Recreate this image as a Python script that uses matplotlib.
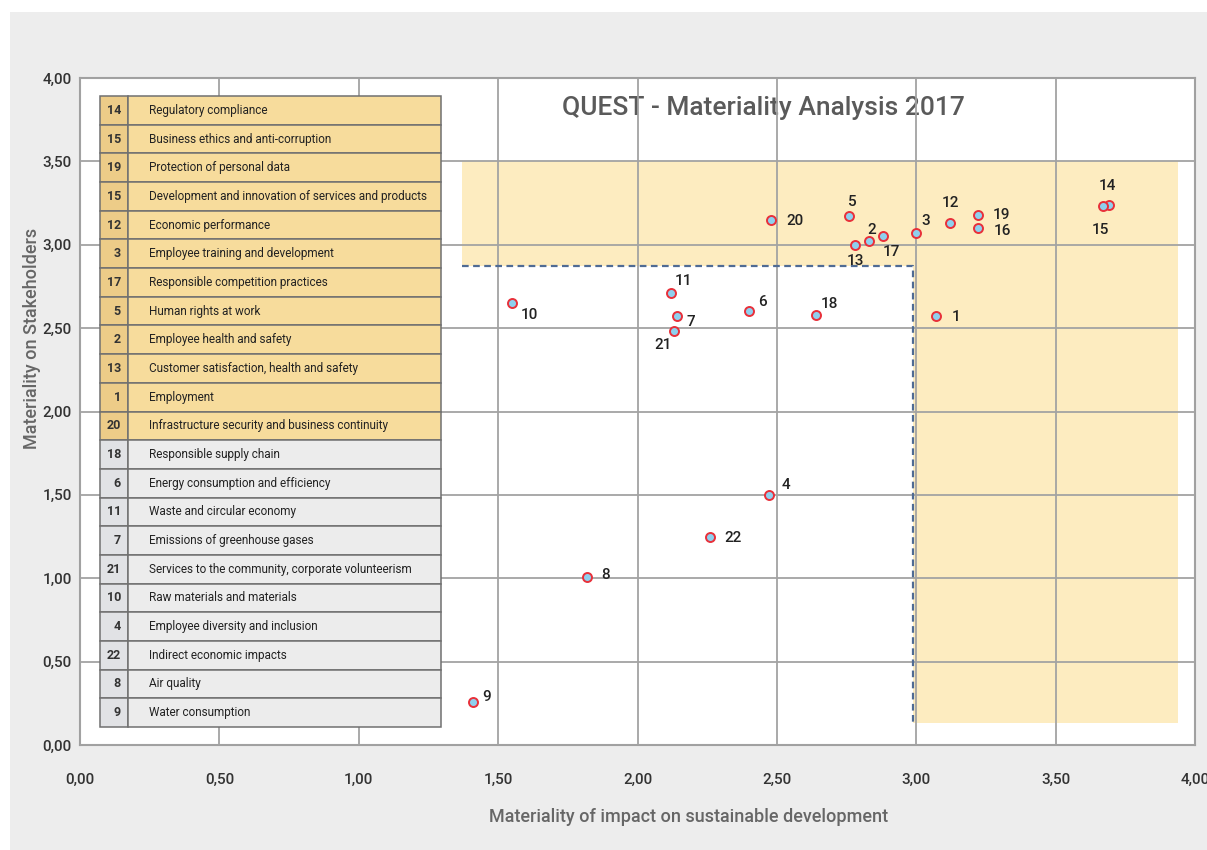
import matplotlib
matplotlib.use("Agg")
import matplotlib.pyplot as plt
from matplotlib.patches import Rectangle, Polygon
from matplotlib.ticker import FuncFormatter

# ----------------------------
# DATA
# ----------------------------

ids = [14, 15, 19, 16, 12, 3, 17, 2, 13, 5, 20, 1, 18, 6, 11, 7, 21, 10, 4, 22, 8, 9]
impact = [3.69, 3.67, 3.22, 3.22, 3.12, 3.00, 2.88, 2.83, 2.78, 2.76, 2.48, 3.07,
          2.64, 2.40, 2.12, 2.14, 2.13, 1.55, 2.47, 2.26, 1.82, 1.41]
stakeholders = [3.24, 3.23, 3.18, 3.10, 3.13, 3.07, 3.05, 3.02, 3.00, 3.17, 3.15, 2.57,
                2.58, 2.60, 2.71, 2.57, 2.48, 2.65, 1.50, 1.25, 1.01, 0.26]

table_ids = [14, 15, 19, 15, 12, 3, 17, 5, 2, 13, 1, 20,
             18, 6, 11, 7, 21, 10, 4, 22, 8, 9]
table_topics = [
    "Regulatory compliance",
    "Business ethics and anti-corruption",
    "Protection of personal data",
    "Development and innovation of services and products",
    "Economic performance",
    "Employee training and development",
    "Responsible competition practices",
    "Human rights at work",
    "Employee health and safety",
    "Customer satisfaction, health and safety",
    "Employment",
    "Infrastructure security and business continuity",
    "Responsible supply chain",
    "Energy consumption and efficiency",
    "Waste and circular economy",
    "Emissions of greenhouse gases",
    "Services to the community, corporate volunteerism",
    "Raw materials and materials",
    "Employee diversity and inclusion",
    "Indirect economic impacts",
    "Air quality",
    "Water consumption",
]
n_material = 12  # first rows highlighted in yellow

# material zone (L shape) and threshold
zone_x = [1.37, 3.94]
zone_y = [0.13, 3.50]
threshold = (2.99, 2.87)

# label offsets in pixels (dx, dy) for each point id
label_off = {14: (-1, 19), 15: (-3, -24), 19: (24, 0), 16: (25, -3), 12: (1, 20),
             3: (9, 12), 17: (9, -16), 2: (3, 11), 13: (0, -16), 5: (3, 14),
             20: (24, -1), 1: (20, -1), 18: (13, 11), 6: (13, 9), 11: (12, 12),
             7: (14, -6), 21: (-11, -14), 10: (17, -12), 4: (17, 10), 22: (23, -1),
             8: (18, 2), 9: (14, 5)}

# ----------------------------
# PLOT
# ----------------------------

FONT = "Roboto"
plt.rcParams["font.family"] = FONT

fig = plt.figure(figsize=(12.07, 8.5), dpi=100, facecolor="white")
fig.patches.append(Rectangle((10 / 1207, 0), 1, 1 - 12 / 850, transform=fig.transFigure,
                             facecolor="#ededed", edgecolor="none", zorder=-10))

ax = fig.add_axes([80 / 1207, 105 / 850, 1115 / 1207, 667 / 850])
ax.set_facecolor("white")
ax.set_xlim(0, 4)
ax.set_ylim(0, 4)

ticks = [i * 0.5 for i in range(9)]
ax.set_xticks(ticks)
ax.set_yticks(ticks)
fmt = FuncFormatter(lambda v, p: f"{v:.2f}".replace(".", ","))
ax.xaxis.set_major_formatter(fmt)
ax.yaxis.set_major_formatter(fmt)
ax.tick_params(length=0, labelsize=11, labelcolor="#333333")
ax.tick_params(axis="x", pad=20)
ax.tick_params(axis="y", pad=6)
for lab in ax.get_xticklabels() + ax.get_yticklabels():
    lab.set_fontweight("medium")
ax.grid(True, color="#a3a3a3", linewidth=1.3, zorder=2)
ax.set_axisbelow(False)
for s in ax.spines.values():
    s.set_color("#a0a0a0")
    s.set_linewidth(1.5)

# material zone
tx, ty = threshold
zone = Polygon([(zone_x[0], zone_y[1]), (zone_x[1], zone_y[1]), (zone_x[1], zone_y[0]),
                (tx, zone_y[0]), (tx, ty), (zone_x[0], ty)],
               closed=True, facecolor="#fdecc0", edgecolor="none", zorder=0.5)
ax.add_patch(zone)
ax.plot([zone_x[0], tx, tx], [ty, ty, zone_y[0]], color="#4f6b94", linewidth=1.6,
        linestyle=(0, (3, 2)), zorder=3)

# title (behind gridlines)
ax.text(2.45, 3.82, "QUEST - Materiality Analysis 2017", ha="center", va="center",
        fontsize=19, color="#5a5a5a", fontweight="medium", zorder=1)

# points
ax.scatter(impact, stakeholders, s=42, facecolor="#8fd0ee", edgecolor="#e8303a",
           linewidth=1.4, zorder=5)
for i, x, y in zip(ids, impact, stakeholders):
    dx, dy = label_off[i]
    ax.annotate(str(i), (x, y), xytext=(dx, dy), textcoords="offset pixels",
                ha="center", va="center", fontsize=11, color="#222222",
                fontweight="medium", zorder=6)

# table
t_left, t_mid, t_right = 0.072, 0.172, 1.295
t_top, t_bottom = 3.892, 0.108
row_h = (t_top - t_bottom) / len(table_topics)
for k, (num, topic) in enumerate(zip(table_ids, table_topics)):
    y0 = t_top - (k + 1) * row_h
    if k < n_material:
        c_num, c_txt = "#edcc88", "#f7dc9c"
    else:
        c_num, c_txt = "#e1e2e5", "#ececec"
    ax.add_patch(Rectangle((t_left, y0), t_mid - t_left, row_h, facecolor=c_num,
                           edgecolor="#707070", linewidth=1.1, zorder=7))
    ax.add_patch(Rectangle((t_mid, y0), t_right - t_mid, row_h, facecolor=c_txt,
                           edgecolor="#707070", linewidth=1.1, zorder=7))
    ax.text(t_mid - 0.025, y0 + row_h / 2, str(num), ha="right", va="center",
            fontsize=9, fontweight="bold", color="#333333", zorder=8)
    ax.text(0.248, y0 + row_h / 2, topic, ha="left", va="center",
            fontsize=8.5, color="#222222", zorder=8)

ax.set_xlabel("Materiality of impact on sustainable development", fontsize=13,
              color="#666666", fontweight="medium")
ax.xaxis.set_label_coords(0.546, -0.094)
ax.set_ylabel("Materiality on Stakeholders", fontsize=13, color="#666666",
              fontweight="medium")
ax.yaxis.set_label_coords(-0.035, 0.61)

fig.savefig("out.png", dpi=100, facecolor=fig.get_facecolor())
